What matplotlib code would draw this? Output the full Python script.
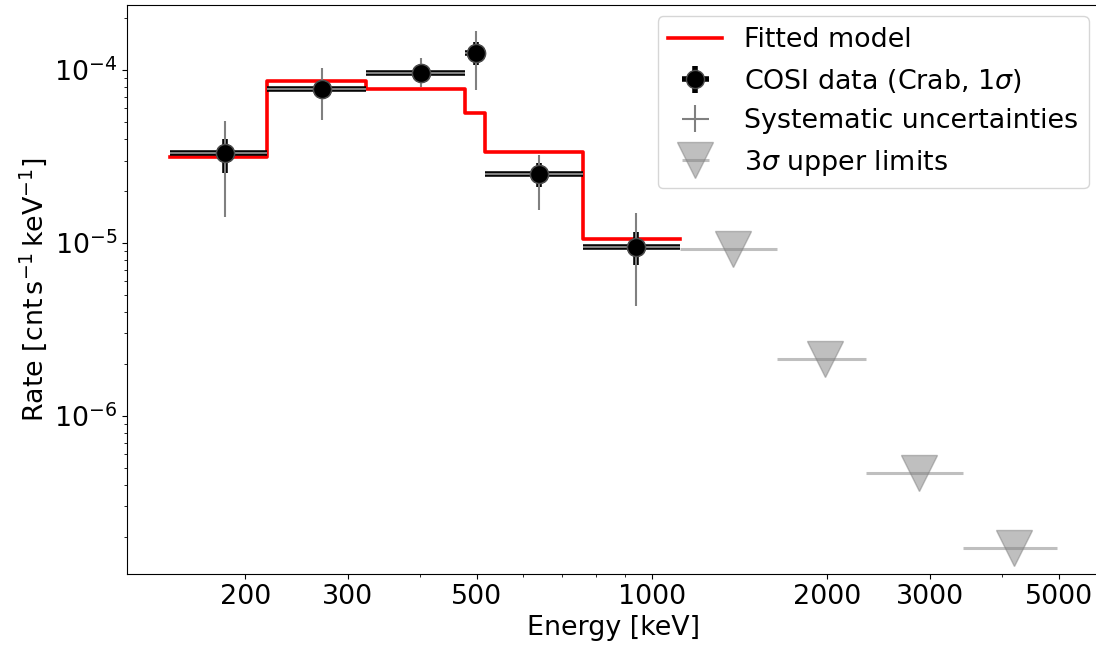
import numpy as np
import matplotlib
matplotlib.use("Agg")
import matplotlib.pyplot as plt

# ---- data ----
bin_edges = [148.5, 218, 322.6, 478, 516.6, 761, 1117]
model_rate = [3.14e-5, 8.64e-5, 7.76e-5, 5.64e-5, 3.36e-5, 1.05e-5]

data_energy = [184.6, 271, 401, 498.5, 639, 938]
data_lo = [148.5, 218, 322.6, 478, 516.6, 761]
data_hi = [218, 322.6, 478, 516.6, 761, 1117]
data_rate = [3.31e-5, 7.76e-5, 9.61e-5, 1.25e-4, 2.51e-5, 9.48e-6]
stat_up = [3.99e-5, 8.53e-5, 1.05e-4, 1.45e-4, 2.90e-5, 1.16e-5]
stat_dn = [2.54e-5, 6.98e-5, 8.75e-5, 1.07e-4, 2.11e-5, 7.46e-6]
sys_up = [5.07e-5, 1.03e-4, 1.17e-4, 1.68e-4, 3.23e-5, 1.49e-5]
sys_dn = [1.41e-5, 5.14e-5, 7.97e-5, 7.66e-5, 1.55e-5, 4.33e-6]

ul_energy = [1378, 1982, 2876, 4188]
ul_lo = [1117, 1640, 2332, 3422]
ul_hi = [1640, 2332, 3422, 4965]
ul_rate = [9.2e-6, 2.13e-6, 4.69e-7, 1.72e-7]

x_major = [200, 300, 500, 1000, 2000, 3000, 5000]
x_minor = [400, 600, 700, 800, 900, 4000]

# ---- plot ----
plt.rcParams['font.family'] = ['DejaVu Sans']
plt.rcParams['mathtext.fontset'] = 'dejavusans'
fs = 19.4

fig = plt.figure(figsize=(10.96, 6.48), dpi=100)
ax = fig.add_axes([127/1096, 74/648, 973/1096, 569/648])

edges = np.array(bin_edges)
model = np.array(model_rate)
ax.step(edges, np.append(model, model[-1]), where='post', color='red', lw=2.6,
        label='Fitted model', zorder=2)

x = np.array(data_energy); y = np.array(data_rate)
xerr = [x - np.array(data_lo), np.array(data_hi) - x]
yerr_stat = [y - np.array(stat_dn), np.array(stat_up) - y]
yerr_sys = [y - np.array(sys_dn), np.array(sys_up) - y]

ax.errorbar(x, y, xerr=xerr, yerr=yerr_stat, fmt='o', color='black', ms=13,
            mec='0.3', mew=1.0, elinewidth=4, capsize=0, zorder=3,
            label=r'COSI data (Crab, 1$\sigma$)')
ax.errorbar(x, y, xerr=xerr, yerr=yerr_sys, fmt='none', ecolor='grey',
            elinewidth=1.5, capsize=0, zorder=4, label='Systematic uncertainties')
ax.plot(x, y, 'o', color='black', ms=13, mec='0.3', mew=1.0, zorder=5)

ux = np.array(ul_energy); uy = np.array(ul_rate)
uxerr = [ux - np.array(ul_lo), np.array(ul_hi) - ux]
ax.errorbar(ux, uy, xerr=uxerr, fmt='v', color='grey', ms=26, alpha=0.5,
            elinewidth=2.2, capsize=0, zorder=3, label=r'3$\sigma$ upper limits')

ax.set_xscale('log')
ax.set_yscale('log')
ax.set_xlim(125.3, 5887)
ax.set_ylim(1.22e-7, 2.38e-4)

ax.set_xticks(x_major)
ax.set_xticklabels([str(v) for v in x_major])
ax.set_xticks(x_minor, minor=True)
ax.xaxis.set_minor_formatter(matplotlib.ticker.NullFormatter())
ax.tick_params(labelsize=fs)

ax.set_xlabel('Energy [keV]', fontsize=fs)
ax.set_ylabel(r'Rate [$\mathrm{cnt\,s^{-1}\,keV^{-1}}$]', fontsize=fs)

ax.legend(loc='upper right', fontsize=fs, borderaxespad=0.42)

fig.savefig('out.png', dpi=100)
